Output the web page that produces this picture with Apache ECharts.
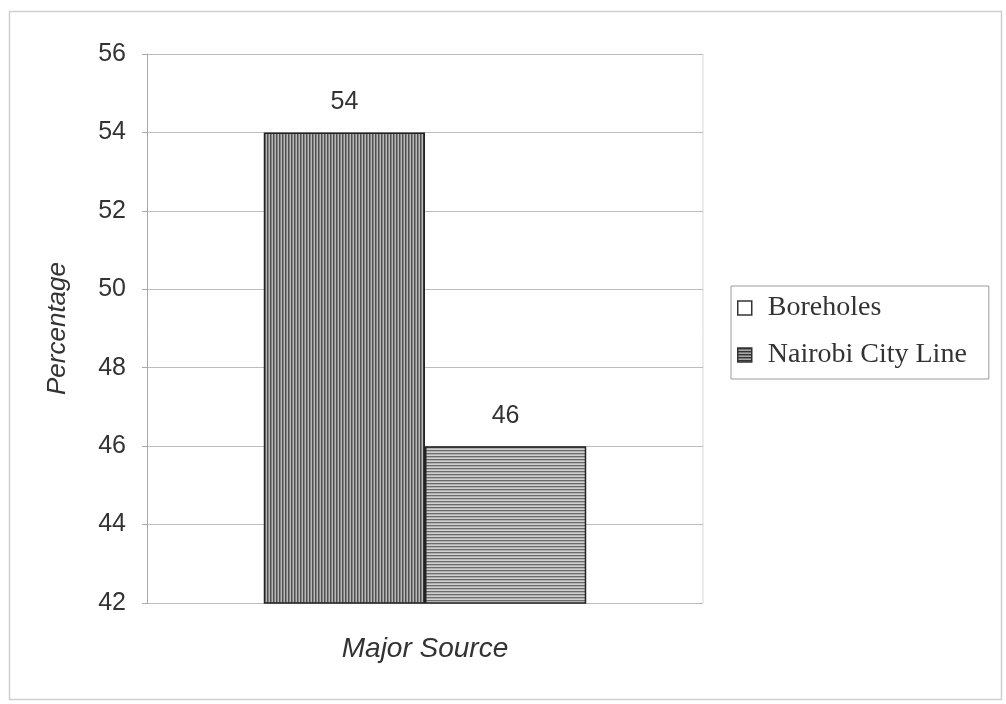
<!DOCTYPE html>
<html><head><meta charset="utf-8">
<script src="https://cdn.jsdelivr.net/npm/echarts@6/dist/echarts.min.js"></script>
<style>html,body{margin:0;padding:0;background:#fff}#c{width:1006px;height:704px}</style>
</head><body><div id="c"></div>
<script>
const categories = ['Major Source'];
const seriesNames = ['Boreholes', 'Nairobi City Line'];
const boreholes = [54];
const nairobi = [46];
const yTicks = [42, 44, 46, 48, 50, 52, 54, 56];

function stripe(vertical, dark, light, period, lw) {
  const c = document.createElement('canvas');
  c.width = period; c.height = period;
  const g = c.getContext('2d');
  g.fillStyle = light; g.fillRect(0, 0, period, period);
  g.fillStyle = dark;
  if (vertical) g.fillRect(0, 0, lw, period); else g.fillRect(0, 0, period, lw);
  return c;
}
const vPat = { image: stripe(true, '#505050', '#b8b8b8', 3, 1.5), repeat: 'repeat' };
const hPat = { image: stripe(false, '#6a6a6a', '#d0d0d0', 3, 1.3), repeat: 'repeat' };
const legPat = { image: stripe(false, '#333333', '#a8a8a8', 3, 1.4), repeat: 'repeat' };

const chart = echarts.init(document.getElementById('c'), null, { renderer: 'canvas' });
chart.setOption({
  backgroundColor: '#fff',
  animation: false,
  graphic: [{
    type: 'rect', left: 7, top: 9, shape: { width: 992, height: 688 },
    style: { fill: 'none', stroke: '#cfcfcf', lineWidth: 1.5 }
  }, {
    type: 'line', shape: { x1: 703, y1: 54, x2: 703, y2: 603 },
    style: { stroke: '#d8d8d8', lineWidth: 1 }
  }],
  grid: { left: 147, right: 303, top: 54, bottom: 101, containLabel: false },
  legend: {
    orient: 'vertical', left: 731, top: 286,
    padding: [8, 22, 10, 6], itemGap: 19,
    borderColor: '#9a9a9a', borderWidth: 1,
    itemWidth: 14, itemHeight: 14,
    textStyle: { fontFamily: 'Liberation Serif', fontSize: 28, color: '#333', padding: [0, 0, 0, 11] },
    data: [
      { name: seriesNames[0], icon: 'rect', itemStyle: { color: '#fff', borderColor: '#333', borderWidth: 1.5 } },
      { name: seriesNames[1], icon: 'rect', itemStyle: { color: legPat, borderColor: '#333', borderWidth: 1.5 } }
    ]
  },
  xAxis: {
    type: 'category', data: categories,
    name: categories[0], nameLocation: 'middle', nameGap: 32,
    nameTextStyle: { fontFamily: 'Liberation Sans', fontStyle: 'italic', fontSize: 28, color: '#333' },
    axisLabel: { show: false }, axisTick: { show: false },
    axisLine: { show: false }
  },
  yAxis: {
    type: 'value', min: yTicks[0], max: yTicks[yTicks.length - 1], interval: 2,
    name: 'Percentage', nameLocation: 'middle', nameGap: 76, nameRotate: 90,
    nameTextStyle: { fontFamily: 'Liberation Sans', fontStyle: 'italic', fontSize: 26, color: '#333' },
    axisLabel: { fontFamily: 'Liberation Sans', fontSize: 25, color: '#333', margin: 21 },
    axisLine: { show: true, lineStyle: { color: '#a8a8a8', width: 1 } },
    axisTick: { show: true, length: 5, lineStyle: { color: '#a8a8a8' } },
    splitLine: { show: true, lineStyle: { color: '#bcbcbc', width: 1 } }
  },
  series: [{
    name: seriesNames[0], type: 'bar', data: boreholes,
    barGap: '0%', barCategoryGap: '42%',
    itemStyle: { color: vPat, borderColor: '#222', borderWidth: 1.5 },
    label: { show: true, position: 'top', distance: 18, fontFamily: 'Liberation Sans', fontSize: 25, color: '#333' }
  }, {
    name: seriesNames[1], type: 'bar', data: nairobi,
    itemStyle: { color: hPat, borderColor: '#222', borderWidth: 1.5 },
    label: { show: true, position: 'top', distance: 18, fontFamily: 'Liberation Sans', fontSize: 25, color: '#333' }
  }]
});
</script></body></html>
